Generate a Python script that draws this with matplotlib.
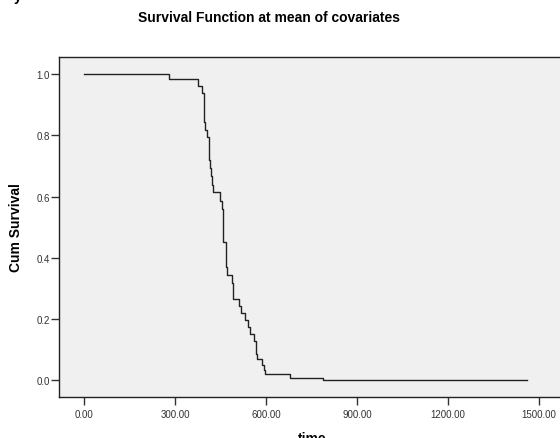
"""Survival function at mean of covariates (SPSS-style Cox plot)."""

import matplotlib

matplotlib.use("Agg")
import matplotlib.pyplot as plt

plt.rcParams["font.family"] = ["Liberation Sans", "DejaVu Sans"]

# step drop times and the survival level after each drop
drop_times = [0, 279, 375, 390, 395, 399, 406, 411, 415, 420, 423, 425, 447,
              454, 457, 469, 471, 487, 490, 512, 517, 532, 542, 547, 561, 566,
              569, 588, 592, 597, 678, 789]
survival = [1.0, 0.984, 0.962, 0.939, 0.843, 0.818, 0.794, 0.721, 0.694,
            0.669, 0.639, 0.614, 0.585, 0.560, 0.451, 0.369, 0.345, 0.317,
            0.266, 0.242, 0.219, 0.197, 0.173, 0.150, 0.128, 0.087, 0.069,
            0.051, 0.035, 0.020, 0.0075, 0.002]
last_time = 1462

x_ticks = [0, 300, 600, 900, 1200, 1500]
y_ticks = [0.0, 0.2, 0.4, 0.6, 0.8, 1.0]


def main() -> None:
    fig = plt.figure(figsize=(5.6, 4.39), dpi=100)
    ax = fig.add_axes([0.1054, 0.0934, 0.905, 0.7745])
    ax.set_facecolor("#f0f0f0")

    times = drop_times + [last_time]
    levels = survival + [survival[-1]]
    ax.step(times, levels, where="post", color="#222222", linewidth=1.0)

    ax.set_xlim(-82.4, 1589)
    ax.set_ylim(-0.0546, 1.0565)
    ax.set_xticks(x_ticks)
    ax.set_xticklabels([f"{t:.2f}" for t in x_ticks])
    ax.set_yticks(y_ticks)
    ax.set_yticklabels([f"{v:.1f}" for v in y_ticks])
    ax.tick_params(axis="both", labelsize=7, labelcolor="#333333",
                   color="#333333", length=6, width=1.0)
    ax.tick_params(axis="y", pad=0.5)
    ax.tick_params(axis="x", pad=3)

    for side in ["left", "bottom", "top"]:
        ax.spines[side].set_color("#222222")
        ax.spines[side].set_linewidth(1.0)
    ax.spines["right"].set_visible(False)

    ax.set_xlabel("time", fontsize=10, fontweight="bold", labelpad=8)
    ax.set_ylabel("Cum Survival", fontsize=10, fontweight="bold", labelpad=10)

    fig.text(0.48, 0.959, "Survival Function at mean of covariates",
             ha="center", va="center", fontsize=10, fontweight="bold")
    fig.text(0.025, 1 - 1 / 439, "y", ha="left", va="baseline",
             fontsize=10, fontweight="bold")

    fig.savefig("out.png", dpi=100)
    plt.close(fig)


if __name__ == "__main__":
    main()
